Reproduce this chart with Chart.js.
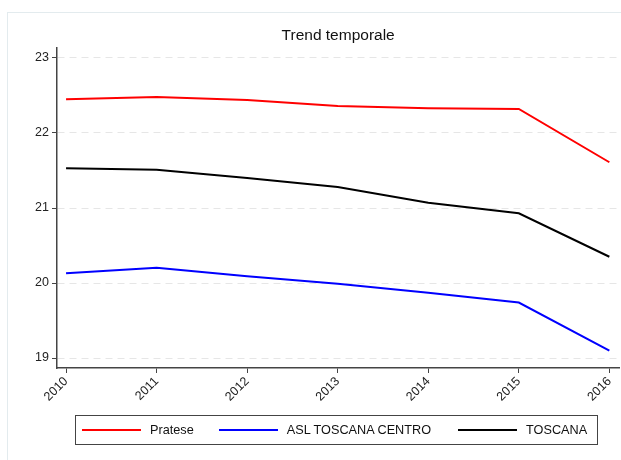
<!DOCTYPE html>
<html>
<head>
<meta charset="utf-8">
<script src="https://cdn.jsdelivr.net/npm/chart.js@4"></script>
<style>
    body { margin: 0; background: #fff; width: 621px; height: 460px; overflow: hidden; position: relative;
           font-family: "Liberation Sans", Arial, sans-serif; }
    #frame { position: absolute; left: 7px; top: 12px; width: 700px; height: 500px; border: 1px solid #e3ebee; }
    #wrap { position: absolute; left: 0; top: 0; width: 621px; height: 460px; }
    #legend { position: absolute; left: 75px; top: 415px; width: 521px; height: 28px; border: 1px solid #444;
              display: flex; align-items: center; font-size: 12.7px; color: #111; }
    .item { display: flex; align-items: center; }
    .swatch { width: 59px; height: 2px; margin-right: 9px; }
</style>
</head>
<body>
<div id="frame"></div>
<div id="wrap"><canvas id="myChart" width="621" height="460"></canvas></div>
<div id="legend"></div>
<script>
// Data
const years = [2010, 2011, 2012, 2013, 2014, 2015, 2016];
const yTicks = [19, 20, 21, 22, 23];
const pratese = [22.45, 22.48, 22.44, 22.36, 22.33, 22.32, 21.61];
const aslToscanaCentro = [20.13, 20.205, 20.09, 19.99, 19.87, 19.74, 19.10];
const toscana = [21.53, 21.51, 21.40, 21.28, 21.07, 20.93, 20.35];

const seriesNames = ['Pratese', 'ASL TOSCANA CENTRO', 'TOSCANA'];
const seriesColors = ['#ff0000', '#0000ff', '#000000'];
const seriesValues = [pratese, aslToscanaCentro, toscana];

const fontFamily = '"Liberation Sans", Arial, sans-serif';

const datasets = seriesNames.map((name, i) => ({
    label: name,
    data: years.map((yr, j) => ({ x: yr, y: seriesValues[i][j] })),
    borderColor: seriesColors[i],
    backgroundColor: seriesColors[i],
    borderWidth: 2,
    pointRadius: 0,
    tension: 0
}));

new Chart(document.getElementById('myChart').getContext('2d'), {
    type: 'line',
    data: { datasets: datasets },
    options: {
        responsive: false,
        animation: false,
        layout: { padding: { left: 0, right: 1, top: 0, bottom: 0 } },
        plugins: {
            legend: { display: false },
            tooltip: { enabled: false },
            title: {
                display: true,
                fullSize: false, // center over the plot area, not the canvas
                text: 'Trend temporale',
                color: '#111',
                font: { family: fontFamily, size: 15.5, weight: 'normal' },
                padding: { top: 26, bottom: 3.4 }
            }
        },
        scales: {
            x: {
                type: 'linear',
                min: 2009.9,
                max: 2016.11,
                afterBuildTicks: scale => { scale.ticks = years.map(v => ({ value: v })); },
                afterFit: scale => { scale.height = 92; },
                grid: { drawOnChartArea: false, drawTicks: true, tickLength: 5, tickColor: '#444', tickWidth: 1 },
                border: { display: true, color: '#444', width: 1.5 },
                ticks: {
                    color: '#222',
                    font: { family: fontFamily, size: 12.5 },
                    minRotation: 45,
                    maxRotation: 45,
                    padding: 1,
                    callback: v => String(v)
                }
            },
            y: {
                min: 18.867,
                max: 23.133,
                afterBuildTicks: scale => { scale.ticks = yTicks.map(v => ({ value: v })); },
                afterFit: scale => { scale.width = 57; },
                grid: { color: '#e6e6e6', lineWidth: 1, drawTicks: true, tickLength: 5, tickColor: '#444',
                        tickWidth: 1, tickBorderDash: [] },
                border: { display: true, color: '#444', width: 1.5, dash: [7, 5] },
                ticks: {
                    color: '#222',
                    font: { family: fontFamily, size: 12.5 },
                    padding: 3,
                    callback: v => String(v)
                }
            }
        }
    }
});

// Boxed legend under the plot
const legend = document.getElementById('legend');
const legendGaps = [6, 25, 27];
seriesNames.forEach((name, i) => {
    const item = document.createElement('div');
    item.className = 'item';
    item.style.marginLeft = legendGaps[i] + 'px';
    item.innerHTML = `<span class="swatch" style="background:${seriesColors[i]}"></span><span>${name}</span>`;
    legend.appendChild(item);
});
</script>
</body>
</html>
